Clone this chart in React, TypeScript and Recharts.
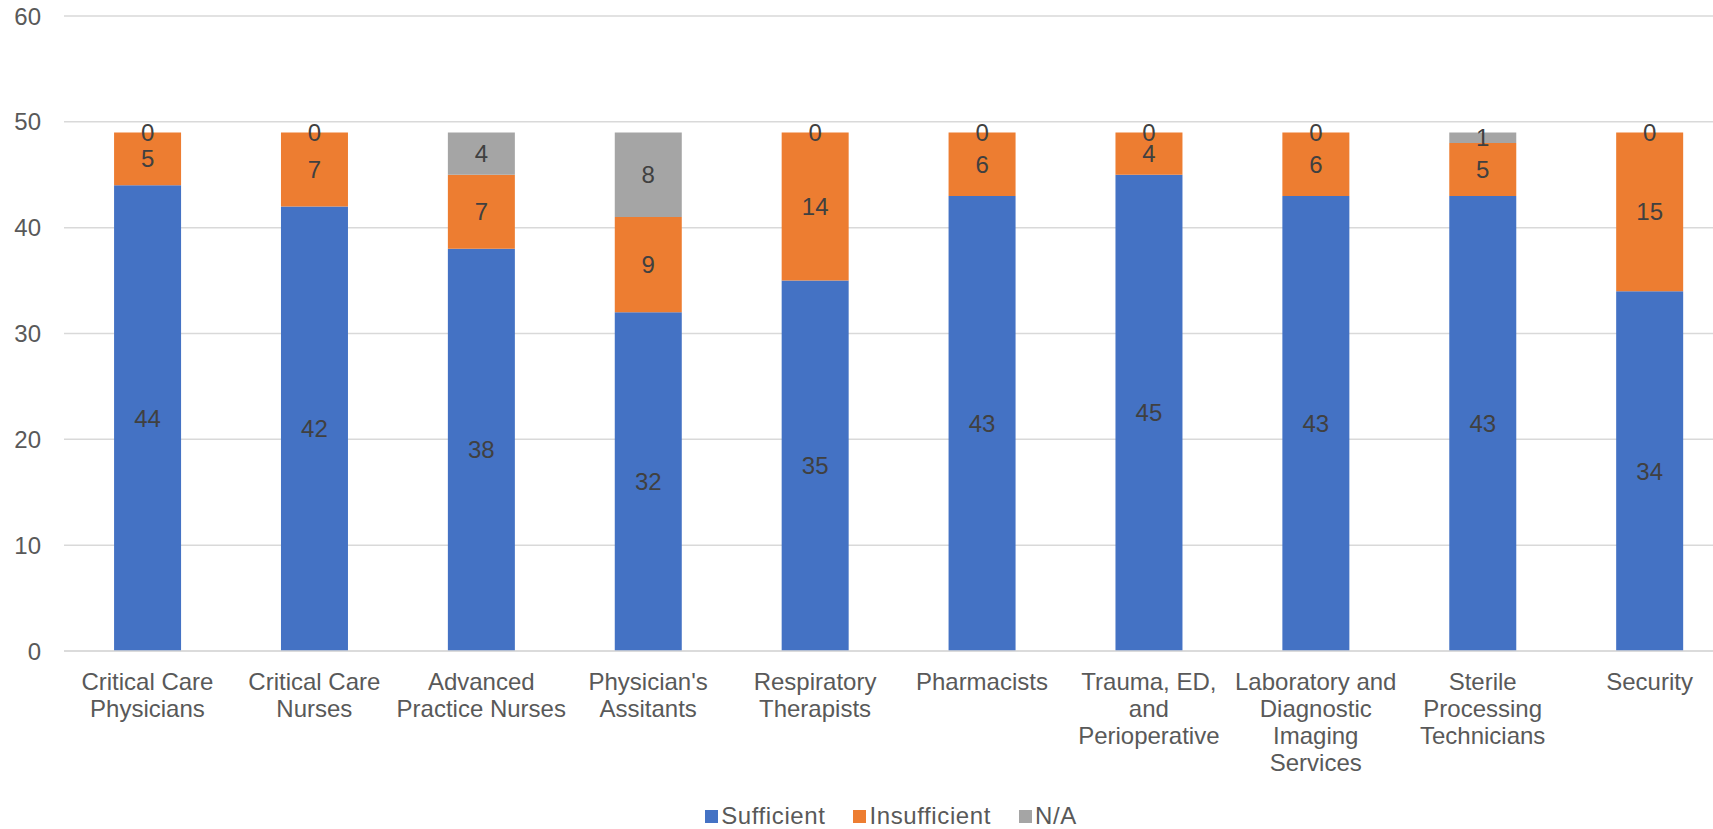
import { Bar, BarChart, CartesianGrid, LabelList, Legend, XAxis, YAxis } from "recharts"

const categories = [
  "Critical Care Physicians",
  "Critical Care Nurses",
  "Advanced Practice Nurses",
  "Physician's Assitants",
  "Respiratory Therapists",
  "Pharmacists",
  "Trauma, ED, and Perioperative",
  "Laboratory and Diagnostic Imaging Services",
  "Sterile Processing Technicians",
  "Security",
]
const sufficient = [44, 42, 38, 32, 35, 43, 45, 43, 43, 34]
const insufficient = [5, 7, 7, 9, 14, 6, 4, 6, 5, 15]
const notApplicable = [0, 0, 4, 8, 0, 0, 0, 0, 1, 0]
const yTicks = [0, 10, 20, 30, 40, 50, 60]

const series = [
  { key: "sufficient", name: "Sufficient", color: "#4472C4" },
  { key: "insufficient", name: "Insufficient", color: "#ED7D31" },
  { key: "na", name: "N/A", color: "#A5A5A5" },
]

const FONT = '"Liberation Sans", Arial, sans-serif'
const TEXT = "#595959"
const FONT_SIZE = 24

const chartData = categories.map((name, i) => ({
  name,
  sufficient: sufficient[i],
  insufficient: insufficient[i],
  na: notApplicable[i],
}))

let measureCtx: CanvasRenderingContext2D | null = null
function textWidth(s: string) {
  if (!measureCtx) measureCtx = document.createElement("canvas").getContext("2d")
  if (!measureCtx) return s.length * FONT_SIZE * 0.5
  measureCtx.font = `${FONT_SIZE}px ${FONT}`
  return measureCtx.measureText(s).width
}

// greedy word wrap, like Excel does for category labels
function wrapLabel(label: string, maxWidth: number) {
  const lines: string[] = []
  let current = ""
  for (const word of label.split(" ")) {
    const next = current ? current + " " + word : word
    if (current && textWidth(next) > maxWidth) {
      lines.push(current)
      current = word
    } else {
      current = next
    }
  }
  if (current) lines.push(current)
  return lines
}

function CategoryTick({ x, y, payload }: any) {
  const lines = wrapLabel(String(payload.value), 175)
  return (
    <text
      x={x}
      y={y}
      textAnchor="middle"
      fill={TEXT}
      fontSize={FONT_SIZE}
      fontFamily={FONT}
    >
      {lines.map((line, i) => (
        <tspan key={i} x={x} dy={i === 0 ? 17 : 27.3}>
          {line}
        </tspan>
      ))}
    </text>
  )
}

function LegendContent() {
  return (
    <div
      style={{
        height: 26,
        display: "flex",
        justifyContent: "center",
        alignItems: "center",
        fontFamily: FONT,
        fontSize: FONT_SIZE,
        color: TEXT,
      }}
    >
      {series.map((s) => (
        <div key={s.key} style={{ display: "flex", alignItems: "center", margin: "0 14px" }}>
          <span style={{ width: 13, height: 13, background: s.color, marginRight: 3 }} />
          <span style={{ letterSpacing: 0.6 }}>{s.name}</span>
        </div>
      ))}
    </div>
  )
}

export default function App() {
  return (
    <div
      style={{
        position: "fixed",
        left: 0,
        top: 0,
        width: 1713,
        height: 829,
        overflow: "hidden",
        background: "#fff",
      }}
    >
      <BarChart
        width={1740}
        height={829}
        data={chartData}
        margin={{ top: 16, right: 7, left: 0, bottom: 0 }}
        barCategoryGap="30%"
      >
        <CartesianGrid vertical={false} stroke="#D9D9D9" strokeWidth={1.5} />
        <XAxis
          dataKey="name"
          height={152}
          interval={0}
          axisLine={{ stroke: "#D9D9D9", strokeWidth: 1.5 }}
          tickLine={false}
          tickSize={0}
          tickMargin={21.5}
          tick={<CategoryTick />}
        />
        <YAxis
          width={64}
          domain={[0, 60]}
          ticks={yTicks}
          axisLine={false}
          tickLine={false}
          tickSize={0}
          tickMargin={23}
          tick={{ fill: TEXT, fontSize: FONT_SIZE, fontFamily: FONT }}
        />
        <Legend
          verticalAlign="bottom"
          height={26}
          content={<LegendContent />}
          wrapperStyle={{ left: 70, width: 1642 }}
        />
        {series.map((s) => (
          <Bar
            key={s.key}
            dataKey={s.key}
            name={s.name}
            stackId="a"
            fill={s.color}
            minPointSize={0.01}
            isAnimationActive={false}
          >
            <LabelList
              dataKey={s.key}
              position="center"
              fill="#404040"
              fontSize={FONT_SIZE}
              fontFamily={FONT}
            />
          </Bar>
        ))}
      </BarChart>
    </div>
  )
}
